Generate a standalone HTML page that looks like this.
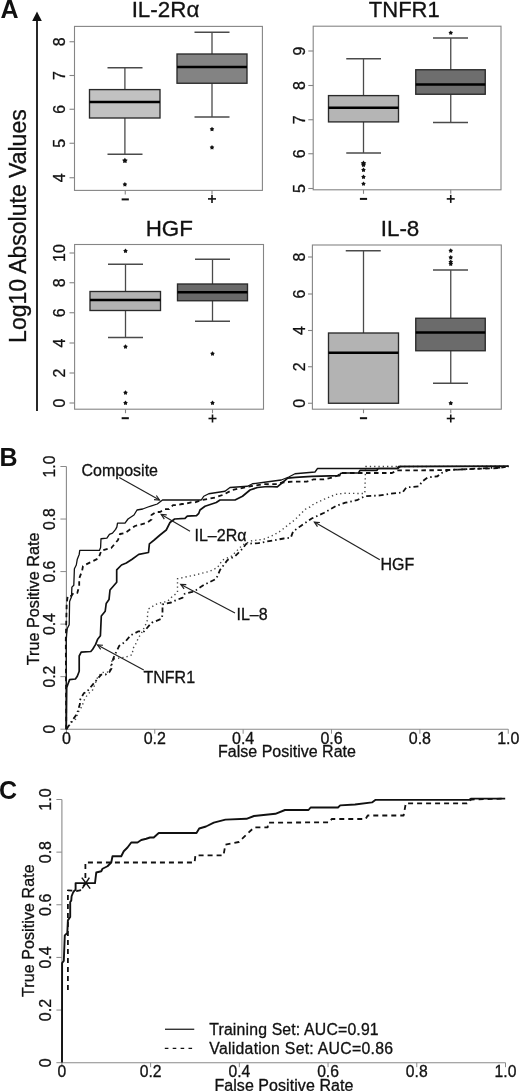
<!DOCTYPE html>
<html><head><meta charset="utf-8"><style>
html,body{margin:0;padding:0;background:#fff;}
svg{display:block;will-change:transform;}
</style></head><body>
<svg width="520" height="1091" viewBox="0 0 520 1091">
<rect x="0" y="0" width="520" height="1091" fill="#fff"/>
<g font-family='"Liberation Sans", sans-serif'>
<style>text{stroke:#111;stroke-width:0.3px;} text[font-weight="bold"]{stroke:none;}</style>
<text x="0.4" y="17.8" font-size="25" text-anchor="start" font-weight="bold" fill="#111">A</text>
<line x1="37" y1="19" x2="37" y2="411" stroke="#111" stroke-width="1.8"/>
<polygon points="37,11.5 32.2,21 41.8,21" fill="#111"/>
<text x="25.9" y="226.1" font-size="23" text-anchor="middle" font-weight="normal" fill="#111" transform="rotate(-90 25.9 226.1)">Log10 Absolute Values</text>
<text x="165.5" y="16.8" font-size="22.4" text-anchor="middle" font-weight="normal" fill="#111">IL-2R&#945;</text>
<text x="404.3" y="16.8" font-size="22" text-anchor="middle" font-weight="normal" fill="#111">TNFR1</text>
<text x="169.3" y="236.2" font-size="22.4" text-anchor="middle" font-weight="normal" fill="#111">HGF</text>
<text x="400" y="236.2" font-size="22.4" text-anchor="middle" font-weight="normal" fill="#111">IL-8</text>
<rect x="74.5" y="26.4" width="187.89999999999998" height="164.0" fill="none" stroke="#858585" stroke-width="1.1"/>
<line x1="69.5" y1="41.75" x2="74.5" y2="41.75" stroke="#858585" stroke-width="1.1"/>
<text x="65" y="41.75" font-size="16" text-anchor="middle" font-weight="normal" fill="#111" transform="rotate(-90 65 41.75)">8</text>
<line x1="69.5" y1="75.5" x2="74.5" y2="75.5" stroke="#858585" stroke-width="1.1"/>
<text x="65" y="75.5" font-size="16" text-anchor="middle" font-weight="normal" fill="#111" transform="rotate(-90 65 75.5)">7</text>
<line x1="69.5" y1="109.25" x2="74.5" y2="109.25" stroke="#858585" stroke-width="1.1"/>
<text x="65" y="109.25" font-size="16" text-anchor="middle" font-weight="normal" fill="#111" transform="rotate(-90 65 109.25)">6</text>
<line x1="69.5" y1="143.25" x2="74.5" y2="143.25" stroke="#858585" stroke-width="1.1"/>
<text x="65" y="143.25" font-size="16" text-anchor="middle" font-weight="normal" fill="#111" transform="rotate(-90 65 143.25)">5</text>
<line x1="69.5" y1="177.75" x2="74.5" y2="177.75" stroke="#858585" stroke-width="1.1"/>
<text x="65" y="177.75" font-size="16" text-anchor="middle" font-weight="normal" fill="#111" transform="rotate(-90 65 177.75)">4</text>
<line x1="125.25" y1="190.4" x2="125.25" y2="194.4" stroke="#858585" stroke-width="1.1"/>
<line x1="212" y1="190.4" x2="212" y2="194.4" stroke="#858585" stroke-width="1.1"/>
<line x1="124.9" y1="67.75" x2="124.9" y2="89.6" stroke="#4a4a4a" stroke-width="1.3"/>
<line x1="107.5" y1="67.75" x2="142.5" y2="67.75" stroke="#4a4a4a" stroke-width="1.4"/>
<line x1="124.9" y1="118" x2="124.9" y2="154.25" stroke="#4a4a4a" stroke-width="1.3"/>
<line x1="107.5" y1="154.25" x2="142.5" y2="154.25" stroke="#4a4a4a" stroke-width="1.4"/>
<rect x="89.5" y="89.6" width="70.5" height="28.400000000000006" fill="#c2c2c2" stroke="#2a2a2a" stroke-width="1.35"/>
<line x1="89.5" y1="102" x2="160" y2="102" stroke="#000" stroke-width="2.4"/>
<polygon points="124.90,157.85 125.92,159.34 127.66,159.85 126.55,161.29 126.60,163.10 124.90,162.49 123.20,163.10 123.25,161.29 122.14,159.85 123.88,159.34" fill="#111"/>
<polygon points="124.90,182.10 125.75,183.34 127.18,183.76 126.27,184.94 126.31,186.44 124.90,185.94 123.49,186.44 123.53,184.94 122.62,183.76 124.05,183.34" fill="#111"/>
<line x1="212" y1="32.25" x2="212" y2="54" stroke="#4a4a4a" stroke-width="1.3"/>
<line x1="194.5" y1="32.25" x2="229.5" y2="32.25" stroke="#4a4a4a" stroke-width="1.4"/>
<line x1="212" y1="83.25" x2="212" y2="117" stroke="#4a4a4a" stroke-width="1.3"/>
<line x1="194.5" y1="117" x2="229.5" y2="117" stroke="#4a4a4a" stroke-width="1.4"/>
<rect x="177" y="54" width="70" height="29.25" fill="#838383" stroke="#2a2a2a" stroke-width="1.35"/>
<line x1="177" y1="67" x2="247" y2="67" stroke="#000" stroke-width="2.4"/>
<polygon points="212.00,126.85 212.85,128.09 214.28,128.51 213.37,129.69 213.41,131.19 212.00,130.69 210.59,131.19 210.63,129.69 209.72,128.51 211.15,128.09" fill="#111"/>
<polygon points="212.00,145.10 212.85,146.34 214.28,146.76 213.37,147.94 213.41,149.44 212.00,148.94 210.59,149.44 210.63,147.94 209.72,146.76 211.15,146.34" fill="#111"/>
<rect x="313.2" y="26.2" width="187.8" height="163.60000000000002" fill="none" stroke="#858585" stroke-width="1.1"/>
<line x1="308.3" y1="51" x2="313.2" y2="51" stroke="#858585" stroke-width="1.1"/>
<text x="304.5" y="51" font-size="16" text-anchor="middle" font-weight="normal" fill="#111" transform="rotate(-90 304.5 51)">9</text>
<line x1="308.3" y1="85.5" x2="313.2" y2="85.5" stroke="#858585" stroke-width="1.1"/>
<text x="304.5" y="85.5" font-size="16" text-anchor="middle" font-weight="normal" fill="#111" transform="rotate(-90 304.5 85.5)">8</text>
<line x1="308.3" y1="119.75" x2="313.2" y2="119.75" stroke="#858585" stroke-width="1.1"/>
<text x="304.5" y="119.75" font-size="16" text-anchor="middle" font-weight="normal" fill="#111" transform="rotate(-90 304.5 119.75)">7</text>
<line x1="308.3" y1="153.75" x2="313.2" y2="153.75" stroke="#858585" stroke-width="1.1"/>
<text x="304.5" y="153.75" font-size="16" text-anchor="middle" font-weight="normal" fill="#111" transform="rotate(-90 304.5 153.75)">6</text>
<line x1="308.3" y1="188.5" x2="313.2" y2="188.5" stroke="#858585" stroke-width="1.1"/>
<text x="304.5" y="188.5" font-size="16" text-anchor="middle" font-weight="normal" fill="#111" transform="rotate(-90 304.5 188.5)">5</text>
<line x1="363.5" y1="189.8" x2="363.5" y2="193.8" stroke="#858585" stroke-width="1.1"/>
<line x1="450.75" y1="189.8" x2="450.75" y2="193.8" stroke="#858585" stroke-width="1.1"/>
<line x1="363.5" y1="58.75" x2="363.5" y2="95.6" stroke="#4a4a4a" stroke-width="1.3"/>
<line x1="346.25" y1="58.75" x2="381" y2="58.75" stroke="#4a4a4a" stroke-width="1.4"/>
<line x1="363.5" y1="121.9" x2="363.5" y2="153" stroke="#4a4a4a" stroke-width="1.3"/>
<line x1="346.25" y1="153" x2="381" y2="153" stroke="#4a4a4a" stroke-width="1.4"/>
<rect x="328.5" y="95.6" width="70.0" height="26.30000000000001" fill="#b5b5b5" stroke="#2a2a2a" stroke-width="1.35"/>
<line x1="328.5" y1="107.8" x2="398.5" y2="107.8" stroke="#000" stroke-width="2.4"/>
<polygon points="363.50,160.60 364.52,162.09 366.26,162.60 365.15,164.04 365.20,165.85 363.50,165.24 361.80,165.85 361.85,164.04 360.74,162.60 362.48,162.09" fill="#111"/>
<polygon points="363.50,162.60 364.35,163.84 365.78,164.26 364.87,165.44 364.91,166.94 363.50,166.44 362.09,166.94 362.13,165.44 361.22,164.26 362.65,163.84" fill="#111"/>
<polygon points="363.50,167.60 364.35,168.84 365.78,169.26 364.87,170.44 364.91,171.94 363.50,171.44 362.09,171.94 362.13,170.44 361.22,169.26 362.65,168.84" fill="#111"/>
<polygon points="363.50,174.60 364.35,175.84 365.78,176.26 364.87,177.44 364.91,178.94 363.50,178.44 362.09,178.94 362.13,177.44 361.22,176.26 362.65,175.84" fill="#111"/>
<polygon points="363.50,181.40 364.35,182.64 365.78,183.06 364.87,184.24 364.91,185.74 363.50,185.24 362.09,185.74 362.13,184.24 361.22,183.06 362.65,182.64" fill="#111"/>
<line x1="450.75" y1="38" x2="450.75" y2="69.75" stroke="#4a4a4a" stroke-width="1.3"/>
<line x1="433" y1="38" x2="468" y2="38" stroke="#4a4a4a" stroke-width="1.4"/>
<line x1="450.75" y1="94.25" x2="450.75" y2="122.5" stroke="#4a4a4a" stroke-width="1.3"/>
<line x1="433" y1="122.5" x2="468" y2="122.5" stroke="#4a4a4a" stroke-width="1.4"/>
<rect x="415.75" y="69.75" width="69.5" height="24.5" fill="#6e6e6e" stroke="#2a2a2a" stroke-width="1.35"/>
<line x1="415.75" y1="84.5" x2="485.25" y2="84.5" stroke="#000" stroke-width="2.4"/>
<polygon points="450.75,30.40 451.60,31.64 453.03,32.06 452.12,33.24 452.16,34.74 450.75,34.24 449.34,34.74 449.38,33.24 448.47,32.06 449.90,31.64" fill="#111"/>
<rect x="74.6" y="244.5" width="188.9" height="164.7" fill="none" stroke="#858585" stroke-width="1.1"/>
<line x1="69.5" y1="253" x2="74.6" y2="253" stroke="#858585" stroke-width="1.1"/>
<text x="65" y="253" font-size="16" text-anchor="middle" font-weight="normal" fill="#111" transform="rotate(-90 65 253)">10</text>
<line x1="69.5" y1="282.75" x2="74.6" y2="282.75" stroke="#858585" stroke-width="1.1"/>
<text x="65" y="282.75" font-size="16" text-anchor="middle" font-weight="normal" fill="#111" transform="rotate(-90 65 282.75)">8</text>
<line x1="69.5" y1="312.75" x2="74.6" y2="312.75" stroke="#858585" stroke-width="1.1"/>
<text x="65" y="312.75" font-size="16" text-anchor="middle" font-weight="normal" fill="#111" transform="rotate(-90 65 312.75)">6</text>
<line x1="69.5" y1="343" x2="74.6" y2="343" stroke="#858585" stroke-width="1.1"/>
<text x="65" y="343" font-size="16" text-anchor="middle" font-weight="normal" fill="#111" transform="rotate(-90 65 343)">4</text>
<line x1="69.5" y1="373" x2="74.6" y2="373" stroke="#858585" stroke-width="1.1"/>
<text x="65" y="373" font-size="16" text-anchor="middle" font-weight="normal" fill="#111" transform="rotate(-90 65 373)">2</text>
<line x1="69.5" y1="403" x2="74.6" y2="403" stroke="#858585" stroke-width="1.1"/>
<text x="65" y="403" font-size="16" text-anchor="middle" font-weight="normal" fill="#111" transform="rotate(-90 65 403)">0</text>
<line x1="125.5" y1="409.2" x2="125.5" y2="413.2" stroke="#858585" stroke-width="1.1"/>
<line x1="212.5" y1="409.2" x2="212.5" y2="413.2" stroke="#858585" stroke-width="1.1"/>
<line x1="125.5" y1="264.25" x2="125.5" y2="291.5" stroke="#4a4a4a" stroke-width="1.3"/>
<line x1="108" y1="264.25" x2="143" y2="264.25" stroke="#4a4a4a" stroke-width="1.4"/>
<line x1="125.5" y1="310.5" x2="125.5" y2="337.5" stroke="#4a4a4a" stroke-width="1.3"/>
<line x1="108" y1="337.5" x2="143" y2="337.5" stroke="#4a4a4a" stroke-width="1.4"/>
<rect x="90" y="291.5" width="70.5" height="19.0" fill="#b2b2b2" stroke="#2a2a2a" stroke-width="1.35"/>
<line x1="90" y1="300" x2="160.5" y2="300" stroke="#000" stroke-width="2.4"/>
<polygon points="125.50,248.60 126.35,249.84 127.78,250.26 126.87,251.44 126.91,252.94 125.50,252.44 124.09,252.94 124.13,251.44 123.22,250.26 124.65,249.84" fill="#111"/>
<polygon points="125.50,344.35 126.35,345.59 127.78,346.01 126.87,347.19 126.91,348.69 125.50,348.19 124.09,348.69 124.13,347.19 123.22,346.01 124.65,345.59" fill="#111"/>
<polygon points="125.50,390.35 126.35,391.59 127.78,392.01 126.87,393.19 126.91,394.69 125.50,394.19 124.09,394.69 124.13,393.19 123.22,392.01 124.65,391.59" fill="#111"/>
<polygon points="125.50,400.60 126.35,401.84 127.78,402.26 126.87,403.44 126.91,404.94 125.50,404.44 124.09,404.94 124.13,403.44 123.22,402.26 124.65,401.84" fill="#111"/>
<line x1="212.5" y1="259.25" x2="212.5" y2="284" stroke="#4a4a4a" stroke-width="1.3"/>
<line x1="195" y1="259.25" x2="230" y2="259.25" stroke="#4a4a4a" stroke-width="1.4"/>
<line x1="212.5" y1="300.75" x2="212.5" y2="321.25" stroke="#4a4a4a" stroke-width="1.3"/>
<line x1="195" y1="321.25" x2="230" y2="321.25" stroke="#4a4a4a" stroke-width="1.4"/>
<rect x="177.5" y="284" width="70.0" height="16.75" fill="#6a6a6a" stroke="#2a2a2a" stroke-width="1.35"/>
<line x1="177.5" y1="292.25" x2="247.5" y2="292.25" stroke="#000" stroke-width="2.4"/>
<polygon points="212.50,351.35 213.35,352.59 214.78,353.01 213.87,354.19 213.91,355.69 212.50,355.19 211.09,355.69 211.13,354.19 210.22,353.01 211.65,352.59" fill="#111"/>
<polygon points="212.50,400.60 213.35,401.84 214.78,402.26 213.87,403.44 213.91,404.94 212.50,404.44 211.09,404.94 211.13,403.44 210.22,402.26 211.65,401.84" fill="#111"/>
<rect x="312.4" y="245.0" width="188.90000000000003" height="164.2" fill="none" stroke="#858585" stroke-width="1.1"/>
<line x1="308.0" y1="257" x2="312.4" y2="257" stroke="#858585" stroke-width="1.1"/>
<text x="304.5" y="257" font-size="16" text-anchor="middle" font-weight="normal" fill="#111" transform="rotate(-90 304.5 257)">8</text>
<line x1="308.0" y1="294" x2="312.4" y2="294" stroke="#858585" stroke-width="1.1"/>
<text x="304.5" y="294" font-size="16" text-anchor="middle" font-weight="normal" fill="#111" transform="rotate(-90 304.5 294)">6</text>
<line x1="308.0" y1="330.5" x2="312.4" y2="330.5" stroke="#858585" stroke-width="1.1"/>
<text x="304.5" y="330.5" font-size="16" text-anchor="middle" font-weight="normal" fill="#111" transform="rotate(-90 304.5 330.5)">4</text>
<line x1="308.0" y1="366.75" x2="312.4" y2="366.75" stroke="#858585" stroke-width="1.1"/>
<text x="304.5" y="366.75" font-size="16" text-anchor="middle" font-weight="normal" fill="#111" transform="rotate(-90 304.5 366.75)">2</text>
<line x1="308.0" y1="403.25" x2="312.4" y2="403.25" stroke="#858585" stroke-width="1.1"/>
<text x="304.5" y="403.25" font-size="16" text-anchor="middle" font-weight="normal" fill="#111" transform="rotate(-90 304.5 403.25)">0</text>
<line x1="363.5" y1="409.2" x2="363.5" y2="413.2" stroke="#858585" stroke-width="1.1"/>
<line x1="450.75" y1="409.2" x2="450.75" y2="413.2" stroke="#858585" stroke-width="1.1"/>
<line x1="363.5" y1="250.75" x2="363.5" y2="333" stroke="#4a4a4a" stroke-width="1.3"/>
<line x1="345.75" y1="250.75" x2="380.75" y2="250.75" stroke="#4a4a4a" stroke-width="1.4"/>
<rect x="328.5" y="333" width="70.0" height="70.25" fill="#b3b3b3" stroke="#2a2a2a" stroke-width="1.35"/>
<line x1="328.5" y1="352.75" x2="398.5" y2="352.75" stroke="#000" stroke-width="2.4"/>
<line x1="450.75" y1="270" x2="450.75" y2="318.25" stroke="#4a4a4a" stroke-width="1.3"/>
<line x1="433" y1="270" x2="468" y2="270" stroke="#4a4a4a" stroke-width="1.4"/>
<line x1="450.75" y1="350.75" x2="450.75" y2="383.25" stroke="#4a4a4a" stroke-width="1.3"/>
<line x1="433" y1="383.25" x2="468" y2="383.25" stroke="#4a4a4a" stroke-width="1.4"/>
<rect x="415.75" y="318.25" width="69.5" height="32.5" fill="#6b6b6b" stroke="#2a2a2a" stroke-width="1.35"/>
<line x1="415.75" y1="332.5" x2="485.25" y2="332.5" stroke="#000" stroke-width="2.4"/>
<polygon points="450.75,248.35 451.60,249.59 453.03,250.01 452.12,251.19 452.16,252.69 450.75,252.19 449.34,252.69 449.38,251.19 448.47,250.01 449.90,249.59" fill="#111"/>
<polygon points="450.75,255.10 451.60,256.34 453.03,256.76 452.12,257.94 452.16,259.44 450.75,258.94 449.34,259.44 449.38,257.94 448.47,256.76 449.90,256.34" fill="#111"/>
<polygon points="450.75,259.60 451.60,260.84 453.03,261.26 452.12,262.44 452.16,263.94 450.75,263.44 449.34,263.94 449.38,262.44 448.47,261.26 449.90,260.84" fill="#111"/>
<polygon points="450.75,261.60 451.60,262.84 453.03,263.26 452.12,264.44 452.16,265.94 450.75,265.44 449.34,265.94 449.38,264.44 448.47,263.26 449.90,262.84" fill="#111"/>
<polygon points="450.75,400.85 451.60,402.09 453.03,402.51 452.12,403.69 452.16,405.19 450.75,404.69 449.34,405.19 449.38,403.69 448.47,402.51 449.90,402.09" fill="#111"/>
<line x1="121.65" y1="199.4" x2="128.85" y2="199.4" stroke="#111" stroke-width="2"/>
<line x1="208" y1="198.9" x2="216" y2="198.9" stroke="#111" stroke-width="1.6"/>
<line x1="212" y1="194.9" x2="212" y2="202.9" stroke="#111" stroke-width="1.6"/>
<line x1="359.9" y1="198.9" x2="367.1" y2="198.9" stroke="#111" stroke-width="2"/>
<line x1="446.75" y1="198.9" x2="454.75" y2="198.9" stroke="#111" stroke-width="1.6"/>
<line x1="450.75" y1="194.9" x2="450.75" y2="202.9" stroke="#111" stroke-width="1.6"/>
<line x1="121.65" y1="418.2" x2="128.85" y2="418.2" stroke="#111" stroke-width="2"/>
<line x1="208.5" y1="418.5" x2="216.5" y2="418.5" stroke="#111" stroke-width="1.6"/>
<line x1="212.5" y1="414.5" x2="212.5" y2="422.5" stroke="#111" stroke-width="1.6"/>
<line x1="359.9" y1="418.2" x2="367.1" y2="418.2" stroke="#111" stroke-width="2"/>
<line x1="446.75" y1="418.5" x2="454.75" y2="418.5" stroke="#111" stroke-width="1.6"/>
<line x1="450.75" y1="414.5" x2="450.75" y2="422.5" stroke="#111" stroke-width="1.6"/>
<text x="-0.5" y="465.7" font-size="25" text-anchor="start" font-weight="bold" fill="#111">B</text>
<line x1="66.4" y1="729.2" x2="66.4" y2="466.5" stroke="#8a8a8a" stroke-width="1.1"/>
<line x1="66.4" y1="729.2" x2="508.25" y2="729.2" stroke="#8a8a8a" stroke-width="1.1"/>
<line x1="60.400000000000006" y1="729.20" x2="66.4" y2="729.20" stroke="#8a8a8a" stroke-width="1"/>
<text x="55.2" y="729.2" font-size="15.7" text-anchor="middle" font-weight="normal" fill="#111" transform="rotate(-90 55.2 729.2)">0</text>
<line x1="66.40" y1="729.2" x2="66.40" y2="733.7" stroke="#8a8a8a" stroke-width="1"/>
<text x="66.4" y="744.3" font-size="16" text-anchor="middle" font-weight="normal" fill="#111">0</text>
<line x1="60.400000000000006" y1="676.66" x2="66.4" y2="676.66" stroke="#8a8a8a" stroke-width="1"/>
<text x="55.2" y="676.66" font-size="15.7" text-anchor="middle" font-weight="normal" fill="#111" transform="rotate(-90 55.2 676.66)">0.2</text>
<line x1="154.77" y1="729.2" x2="154.77" y2="733.7" stroke="#8a8a8a" stroke-width="1"/>
<text x="154.77" y="744.3" font-size="16" text-anchor="middle" font-weight="normal" fill="#111">0.2</text>
<line x1="60.400000000000006" y1="624.12" x2="66.4" y2="624.12" stroke="#8a8a8a" stroke-width="1"/>
<text x="55.2" y="624.12" font-size="15.7" text-anchor="middle" font-weight="normal" fill="#111" transform="rotate(-90 55.2 624.12)">0.4</text>
<line x1="243.14" y1="729.2" x2="243.14" y2="733.7" stroke="#8a8a8a" stroke-width="1"/>
<text x="243.14" y="744.3" font-size="16" text-anchor="middle" font-weight="normal" fill="#111">0.4</text>
<line x1="60.400000000000006" y1="571.58" x2="66.4" y2="571.58" stroke="#8a8a8a" stroke-width="1"/>
<text x="55.2" y="571.58" font-size="15.7" text-anchor="middle" font-weight="normal" fill="#111" transform="rotate(-90 55.2 571.58)">0.6</text>
<line x1="331.51" y1="729.2" x2="331.51" y2="733.7" stroke="#8a8a8a" stroke-width="1"/>
<text x="331.51" y="744.3" font-size="16" text-anchor="middle" font-weight="normal" fill="#111">0.6</text>
<line x1="60.400000000000006" y1="519.04" x2="66.4" y2="519.04" stroke="#8a8a8a" stroke-width="1"/>
<text x="55.2" y="519.04" font-size="15.7" text-anchor="middle" font-weight="normal" fill="#111" transform="rotate(-90 55.2 519.04)">0.8</text>
<line x1="419.88" y1="729.2" x2="419.88" y2="733.7" stroke="#8a8a8a" stroke-width="1"/>
<text x="419.88" y="744.3" font-size="16" text-anchor="middle" font-weight="normal" fill="#111">0.8</text>
<line x1="60.400000000000006" y1="466.50" x2="66.4" y2="466.50" stroke="#8a8a8a" stroke-width="1"/>
<text x="55.2" y="466.5" font-size="15.7" text-anchor="middle" font-weight="normal" fill="#111" transform="rotate(-90 55.2 466.5)">1.0</text>
<line x1="508.25" y1="729.2" x2="508.25" y2="733.7" stroke="#8a8a8a" stroke-width="1"/>
<text x="508.25" y="744.3" font-size="16" text-anchor="middle" font-weight="normal" fill="#111">1.0</text>
<text x="39.3" y="598.9" font-size="16.2" text-anchor="middle" font-weight="normal" fill="#111" transform="rotate(-90 39.3 598.9)">True Positive Rate</text>
<text x="287" y="757.2" font-size="16" text-anchor="middle" font-weight="normal" fill="#111">False Positive Rate</text>
<polyline points="66.40,729.20 72.00,722.00 75.50,719.20 79.00,710.60 81.90,706.50 84.80,698.40 88.80,693.30 92.80,689.80 97.40,677.70 102.00,672.50 109.60,671.90 112.30,659.20 120.00,658.00 126.00,657.00 132.30,654.60 133.00,648.50 135.40,644.60 138.50,637.70 141.50,633.00 147.10,621.70 148.00,609.20 155.80,604.40 161.50,602.50 167.30,601.50 171.25,597.50 177.50,592.50 177.50,578.75 195.00,575.00 210.00,571.25 217.50,567.50 222.50,560.00 231.50,556.20 242.50,545.00 251.50,540.80 263.80,539.20 273.00,535.40 280.80,530.80 288.50,524.60 294.60,520.00 300.80,513.80 305.40,509.20 310.00,507.00 313.70,504.00 324.20,499.20 335.80,494.40 343.50,493.30 364.80,493.50 365.40,473.50 365.60,466.50 393.00,466.50 508.25,466.25" fill="none" stroke="#444" stroke-width="1.4" stroke-linejoin="round" stroke-dasharray="1.3 3"/>
<polyline points="66.40,729.20 68.90,725.40 77.00,713.80 79.90,704.00 79.90,700.00 83.90,693.10 86.80,691.90 94.30,682.70 101.20,674.60 105.30,674.60 109.30,672.30 111.60,668.30 111.60,664.80 113.30,658.50 114.50,655.60 119.20,645.80 125.00,642.00 130.80,635.20 138.50,631.30 144.20,631.30 150.00,624.60 151.90,622.70 161.50,618.80 162.50,615.00 162.50,604.40 171.20,602.50 175.00,600.60 182.70,597.70 184.60,593.80 192.30,591.90 196.20,590.00 203.75,585.00 216.25,578.75 220.00,570.00 227.50,560.00 235.00,556.25 242.50,548.75 246.25,543.75 258.50,543.10 270.80,540.80 283.80,538.50 290.80,537.70 293.10,531.50 301.50,525.40 311.70,518.50 324.20,512.70 335.80,506.00 345.40,502.70 356.90,500.20 364.60,496.30 380.00,495.40 390.00,493.75 402.50,492.50 406.25,487.50 418.75,486.25 422.50,481.25 427.50,477.50 437.50,476.25 440.00,473.75 448.75,470.00 500.00,467.50 508.75,466.25" fill="none" stroke="#111" stroke-width="1.8" stroke-linejoin="round" stroke-dasharray="5 3 1.5 3"/>
<polyline points="66.25,729.25 65.80,640.00 66.70,603.50 67.70,595.80 71.50,595.80 73.50,592.90 77.30,592.90 79.20,586.00 79.20,578.50 82.10,570.80 83.00,566.00 90.80,562.10 98.50,558.30 101.30,550.60 108.00,548.70 111.25,548.00 118.00,540.00 120.00,534.00 125.00,533.00 135.00,526.00 147.00,522.80 151.50,519.60 151.50,515.00 156.00,512.00 160.00,512.00 165.00,509.20 169.00,509.20 173.00,505.20 176.00,505.20 182.00,504.00 185.00,504.00 191.00,502.30 195.00,502.30 202.50,500.00 215.00,497.50 222.50,495.00 232.50,490.00 250.00,486.25 263.50,484.20 277.30,484.20 282.00,482.50 292.90,481.60 306.70,481.60 313.60,479.40 324.00,479.40 332.70,477.30 338.00,475.50 340.50,473.00 392.00,473.00 397.00,470.40 440.00,470.20 500.00,468.00 508.25,466.25" fill="none" stroke="#111" stroke-width="1.8" stroke-linejoin="round" stroke-dasharray="4.5 3.5"/>
<polyline points="66.25,729.25 66.70,687.70 67.70,684.80 69.60,679.60 75.40,679.00 77.30,676.20 79.20,671.30 79.20,656.00 81.20,652.10 90.80,651.50 92.70,649.20 95.60,644.40 97.50,639.60 100.40,635.80 101.30,616.00 105.20,611.20 106.20,603.50 109.00,599.60 110.00,590.00 116.70,582.30 116.70,569.80 121.50,565.00 126.30,563.00 132.10,559.20 138.80,554.40 148.50,552.50 149.40,543.80 154.20,540.00 160.00,535.00 166.25,530.00 170.00,522.50 174.60,519.00 185.00,518.40 187.30,516.10 196.50,515.60 198.80,513.30 200.00,510.00 205.00,506.25 216.25,502.50 220.00,500.00 235.00,500.00 242.50,496.25 250.00,490.00 257.50,487.50 267.50,486.50 277.30,486.80 282.50,482.50 287.70,478.20 295.50,477.30 311.90,476.40 339.60,475.60 340.50,473.50 342.50,473.00 358.50,473.00 360.00,470.40 377.00,470.40 378.00,468.50 397.70,468.50 400.00,466.50 508.25,466.25" fill="none" stroke="#111" stroke-width="1.7" stroke-linejoin="round"/>
<polyline points="66.25,729.25 66.25,640.00 66.70,634.00 67.30,628.50 69.20,624.60 69.60,601.50 71.50,596.70 71.90,587.10 73.80,585.20 74.40,568.80 76.30,565.00 77.30,559.20 79.20,554.40 79.75,550.40 99.40,550.40 100.60,547.50 101.00,538.75 106.90,538.10 109.40,534.40 112.50,533.10 115.60,529.40 116.90,526.90 117.50,523.10 125.00,523.10 128.00,519.00 134.00,515.00 137.00,510.00 142.70,509.00 148.00,507.00 151.50,505.80 157.30,504.00 162.50,500.00 201.25,500.00 203.75,496.25 208.75,493.75 225.00,491.25 230.00,487.50 247.50,486.25 252.50,483.75 266.25,482.00 281.25,480.00 288.75,477.00 295.00,473.75 315.00,472.00 317.50,468.50 397.50,468.50 398.20,466.50 508.25,466.25" fill="none" stroke="#111" stroke-width="1.3" stroke-linejoin="round"/>
<text x="81.5" y="476.2" font-size="16" text-anchor="start" font-weight="normal" fill="#111">Composite</text>
<line x1="119.25" y1="477.5" x2="159.5" y2="500" stroke="#222" stroke-width="1.2"/><polyline points="154.01,499.67 159.5,500 156.34,495.50" fill="none" stroke="#222" stroke-width="1.2"/>
<text x="194.5" y="541" font-size="16" text-anchor="start" font-weight="normal" fill="#111">IL&#8211;2R&#945;</text>
<line x1="190" y1="531.25" x2="161.25" y2="514.5" stroke="#222" stroke-width="1.2"/><polyline points="166.73,514.93 161.25,514.5 164.32,519.06" fill="none" stroke="#222" stroke-width="1.2"/>
<text x="380.5" y="570" font-size="16" text-anchor="start" font-weight="normal" fill="#111">HGF</text>
<line x1="379.8" y1="559.8" x2="314.4" y2="522.1" stroke="#222" stroke-width="1.2"/><polyline points="319.89,522.50 314.4,522.1 317.50,526.65" fill="none" stroke="#222" stroke-width="1.2"/>
<text x="236.5" y="619.7" font-size="16" text-anchor="start" font-weight="normal" fill="#111">IL&#8211;8</text>
<line x1="235" y1="613" x2="180.8" y2="584.5" stroke="#222" stroke-width="1.2"/><polyline points="186.30,584.69 180.8,584.5 184.07,588.92" fill="none" stroke="#222" stroke-width="1.2"/>
<text x="143.5" y="683" font-size="16" text-anchor="start" font-weight="normal" fill="#111">TNFR1</text>
<line x1="143.75" y1="670" x2="97.5" y2="645" stroke="#222" stroke-width="1.2"/><polyline points="102.99,645.25 97.5,645 100.72,649.46" fill="none" stroke="#222" stroke-width="1.2"/>
<text x="-0.9" y="798.6" font-size="25" text-anchor="start" font-weight="bold" fill="#111">C</text>
<line x1="61.9" y1="1062.7" x2="61.9" y2="799.5" stroke="#8a8a8a" stroke-width="1.1"/>
<line x1="61.9" y1="1062.7" x2="505.5" y2="1062.7" stroke="#8a8a8a" stroke-width="1.1"/>
<line x1="56.4" y1="1062.70" x2="61.9" y2="1062.70" stroke="#8a8a8a" stroke-width="1"/>
<text x="51" y="1062.7" font-size="16" text-anchor="middle" font-weight="normal" fill="#111" transform="rotate(-90 51 1062.7)">0</text>
<line x1="61.90" y1="1062.7" x2="61.90" y2="1067.2" stroke="#8a8a8a" stroke-width="1"/>
<text x="61.9" y="1077.2" font-size="15.7" text-anchor="middle" font-weight="normal" fill="#111">0</text>
<line x1="56.4" y1="1010.06" x2="61.9" y2="1010.06" stroke="#8a8a8a" stroke-width="1"/>
<text x="51" y="1010.06" font-size="16" text-anchor="middle" font-weight="normal" fill="#111" transform="rotate(-90 51 1010.06)">0.2</text>
<line x1="150.62" y1="1062.7" x2="150.62" y2="1067.2" stroke="#8a8a8a" stroke-width="1"/>
<text x="150.62" y="1077.2" font-size="15.7" text-anchor="middle" font-weight="normal" fill="#111">0.2</text>
<line x1="56.4" y1="957.42" x2="61.9" y2="957.42" stroke="#8a8a8a" stroke-width="1"/>
<text x="51" y="957.42" font-size="16" text-anchor="middle" font-weight="normal" fill="#111" transform="rotate(-90 51 957.42)">0.4</text>
<line x1="239.34" y1="1062.7" x2="239.34" y2="1067.2" stroke="#8a8a8a" stroke-width="1"/>
<text x="239.34" y="1077.2" font-size="15.7" text-anchor="middle" font-weight="normal" fill="#111">0.4</text>
<line x1="56.4" y1="904.78" x2="61.9" y2="904.78" stroke="#8a8a8a" stroke-width="1"/>
<text x="51" y="904.78" font-size="16" text-anchor="middle" font-weight="normal" fill="#111" transform="rotate(-90 51 904.78)">0.6</text>
<line x1="328.06" y1="1062.7" x2="328.06" y2="1067.2" stroke="#8a8a8a" stroke-width="1"/>
<text x="328.06" y="1077.2" font-size="15.7" text-anchor="middle" font-weight="normal" fill="#111">0.6</text>
<line x1="56.4" y1="852.14" x2="61.9" y2="852.14" stroke="#8a8a8a" stroke-width="1"/>
<text x="51" y="852.14" font-size="16" text-anchor="middle" font-weight="normal" fill="#111" transform="rotate(-90 51 852.14)">0.8</text>
<line x1="416.78" y1="1062.7" x2="416.78" y2="1067.2" stroke="#8a8a8a" stroke-width="1"/>
<text x="416.78" y="1077.2" font-size="15.7" text-anchor="middle" font-weight="normal" fill="#111">0.8</text>
<line x1="56.4" y1="799.50" x2="61.9" y2="799.50" stroke="#8a8a8a" stroke-width="1"/>
<text x="51" y="799.5" font-size="16" text-anchor="middle" font-weight="normal" fill="#111" transform="rotate(-90 51 799.5)">1.0</text>
<line x1="505.50" y1="1062.7" x2="505.50" y2="1067.2" stroke="#8a8a8a" stroke-width="1"/>
<text x="505.5" y="1077.2" font-size="15.7" text-anchor="middle" font-weight="normal" fill="#111">1.0</text>
<text x="34.2" y="930.7" font-size="16" text-anchor="middle" font-weight="normal" fill="#111" transform="rotate(-90 34.2 930.7)" textLength="132.7" lengthAdjust="spacing">True Positive Rate</text>
<text x="283.9" y="1090.5" font-size="16" text-anchor="middle" font-weight="normal" fill="#111" textLength="139" lengthAdjust="spacing">False Positive Rate</text>
<polyline points="67.90,990.00 67.90,890.40 76.50,891.00 80.00,890.40 84.60,884.60 85.40,883.00 85.40,862.50 194.60,862.50 195.40,855.40 223.50,855.40 225.40,844.60 238.80,842.00 254.20,827.30 267.70,827.30 268.00,822.70 329.60,822.30 331.70,819.00 365.60,819.00 367.70,815.50 403.60,815.50 405.80,803.30 467.00,803.30 471.30,799.50 505.20,798.60" fill="none" stroke="#111" stroke-width="1.8" stroke-linejoin="round" stroke-dasharray="5 4"/>
<polyline points="62.00,1062.50 62.10,963.00 63.80,960.80 64.80,935.40 67.30,933.00 67.90,920.40 70.20,917.00 70.20,902.00 71.25,900.60 71.60,896.25 73.10,892.50 74.40,890.60 75.60,890.00 75.60,883.10 95.00,883.10 96.25,872.50 101.25,871.25 102.50,868.75 105.00,867.50 107.50,866.25 108.75,865.00 111.25,862.50 112.50,856.25 121.25,856.25 123.75,851.25 127.50,847.50 131.25,842.50 137.50,842.50 141.25,840.00 146.25,838.75 150.00,837.50 153.75,837.50 158.75,833.00 196.50,833.00 199.20,828.50 206.00,826.50 213.80,822.70 225.40,819.60 246.50,818.80 254.00,816.00 275.40,813.80 285.00,810.00 308.50,810.00 310.60,807.50 338.00,807.50 340.20,805.40 355.00,804.50 372.00,802.40 375.30,799.90 469.20,799.90 471.30,798.60 505.20,798.60" fill="none" stroke="#111" stroke-width="1.9" stroke-linejoin="round"/>
<line x1="81.8" y1="877.6" x2="90.2" y2="888.6" stroke="#111" stroke-width="1.5"/>
<line x1="89.4" y1="877.6" x2="82.3" y2="888.4" stroke="#111" stroke-width="1.5"/>
<line x1="165" y1="1029.25" x2="194.25" y2="1029.25" stroke="#111" stroke-width="1.2"/>
<line x1="164.8" y1="1048.3" x2="193.2" y2="1048.3" stroke="#111" stroke-width="1.2" stroke-dasharray="3.6 4.3"/>
<text x="209.25" y="1035" font-size="15.8" text-anchor="start" font-weight="normal" fill="#111" textLength="169.4" lengthAdjust="spacing">Training Set: AUC=0.91</text>
<text x="209.25" y="1053.9" font-size="15.8" text-anchor="start" font-weight="normal" fill="#111" textLength="183.8" lengthAdjust="spacing">Validation Set: AUC=0.86</text>
</g>
</svg>
</body></html>
